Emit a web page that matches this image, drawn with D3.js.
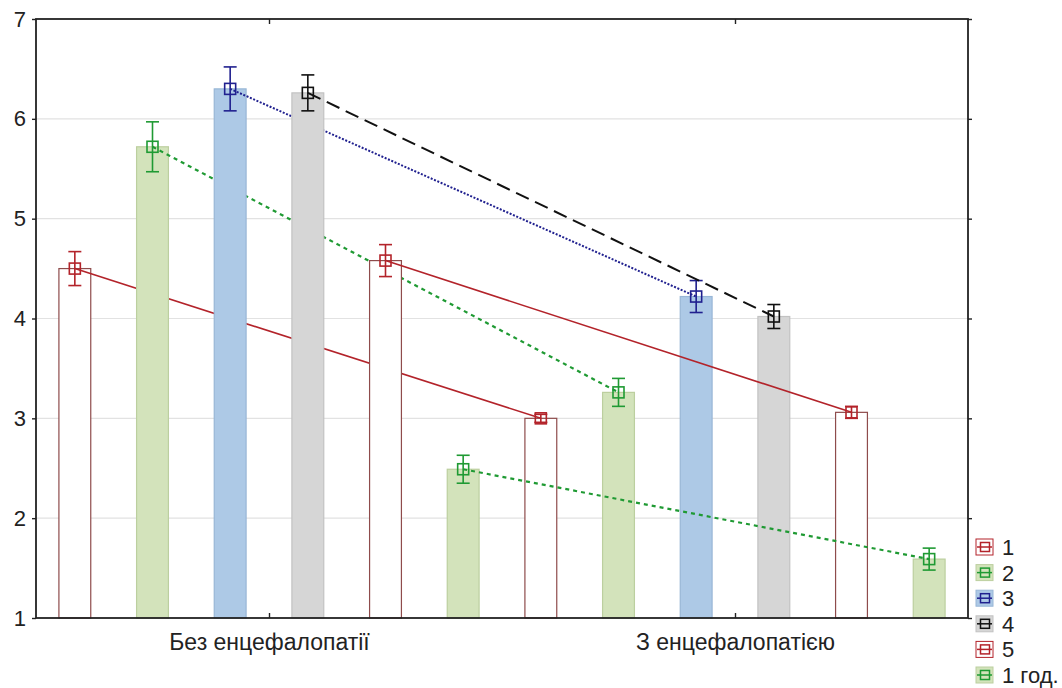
<!DOCTYPE html>
<html>
<head>
<meta charset="utf-8">
<script src="https://cdn.jsdelivr.net/npm/d3@7"></script>
<style>
  body { margin: 0; background: #fff; }
  svg { display: block; font-family: "Liberation Sans", Arial, sans-serif; }
</style>
</head>
<body>
<svg id="chart" width="1062" height="688"></svg>
<script>
// categories on the x axis
let categories = ["Без енцефалопатії", "З енцефалопатією"];
// series names (legend)
let seriesNames = ["1", "2", "3", "4", "5", "1 год."];
// means per series, one value per category
let meanS1 = [4.50, 3.00];
let meanS2 = [5.72, 3.26];
let meanS3 = [6.30, 4.22];
let meanS4 = [6.26, 4.02];
let meanS5 = [4.58, 3.06];
let meanS6 = [2.49, 1.59];
// half-width of the error bars
let errS1 = [0.17, 0.04];
let errS2 = [0.25, 0.14];
let errS3 = [0.22, 0.16];
let errS4 = [0.18, 0.12];
let errS5 = [0.16, 0.06];
let errS6 = [0.14, 0.11];
let yTicks = [1, 2, 3, 4, 5, 6, 7];

let means = [meanS1, meanS2, meanS3, meanS4, meanS5, meanS6];
let errs = [errS1, errS2, errS3, errS4, errS5, errS6];

// look of every series: bar fill/stroke, marker colour, line dash
let styles = [
  {fill: "#ffffff", barStroke: "#8e4b4b", color: "#b3232a", dash: null, width: 1.6},
  {fill: "#d3e3bb", barStroke: "#bccf9f", color: "#1f9a33", dash: "4,4", width: 2.2},
  {fill: "#adc9e6", barStroke: "#98b6d6", color: "#20208f", dash: "2,1.6", width: 2},
  {fill: "#d6d6d6", barStroke: "#c2c2c2", color: "#111111", dash: "14,7", width: 2},
  {fill: "#ffffff", barStroke: "#8e4b4b", color: "#b3232a", dash: null, width: 1.6},
  {fill: "#d3e3bb", barStroke: "#bccf9f", color: "#1f9a33", dash: "4,4", width: 2.2}
];

let svg = d3.select("#chart");
let margin = {left: 36, top: 19, right: 968, bottom: 618};

let x = d3.scalePoint()
  .domain(categories)
  .range([margin.left, margin.right])
  .padding(0.5);

let step = x.step();
// position of each series relative to category centre
let offset = d3.scaleBand()
  .domain(d3.range(seriesNames.length))
  .range([-step / 2, step / 2]);
let barW = offset.bandwidth() * 0.41;
let cx = (s, c) => x(categories[c]) + offset(s) + offset.bandwidth() / 2;

let y = d3.scaleLinear()
  .domain([1, 7])
  .range([margin.bottom, margin.top]);

// grid
svg.append("g").selectAll("line")
  .data(yTicks.slice(1, -1))
  .enter().append("line")
  .attr("x1", margin.left).attr("x2", margin.right)
  .attr("y1", d => y(d)).attr("y2", d => y(d))
  .attr("stroke", "#e2e2e2")
  .attr("stroke-width", 1.2);

let plot = svg.append("g").attr("id", "plot");

// series drawn one after another (bars, line, markers)
means.forEach(function(vals, s) {
  let st = styles[s];
  let g = plot.append("g").attr("class", "series" + s);

  g.selectAll("rect")
    .data(vals)
    .enter().append("rect")
    .attr("x", (d, c) => cx(s, c) - barW / 2)
    .attr("y", d => y(d))
    .attr("width", barW)
    .attr("height", d => y(1) - y(d))
    .attr("fill", st.fill)
    .attr("stroke", st.barStroke)
    .attr("stroke-width", 1.2);

  g.append("line")
    .attr("x1", cx(s, 0)).attr("y1", y(vals[0]))
    .attr("x2", cx(s, 1)).attr("y2", y(vals[1]))
    .attr("stroke", st.color)
    .attr("stroke-width", st.width)
    .attr("stroke-dasharray", st.dash);

  vals.forEach(function(v, c) {
    let e = errs[s][c];
    let px = cx(s, c);
    let eg = g.append("g")
      .attr("stroke", st.color)
      .attr("stroke-width", 1.6)
      .attr("fill", "none");
    eg.append("line")
      .attr("x1", px).attr("x2", px)
      .attr("y1", y(v + e)).attr("y2", y(v - e));
    eg.append("line")
      .attr("x1", px - 6.5).attr("x2", px + 6.5)
      .attr("y1", y(v + e)).attr("y2", y(v + e));
    eg.append("line")
      .attr("x1", px - 6.5).attr("x2", px + 6.5)
      .attr("y1", y(v - e)).attr("y2", y(v - e));
    eg.append("rect")
      .attr("x", px - 5.5).attr("y", y(v) - 5.5)
      .attr("width", 11).attr("height", 11);
  });
});

// frame
svg.append("rect")
  .attr("x", margin.left).attr("y", margin.top)
  .attr("width", margin.right - margin.left)
  .attr("height", margin.bottom - margin.top)
  .attr("fill", "none")
  .attr("stroke", "#222")
  .attr("stroke-width", 1.8);

// left axis
let yAxis = d3.axisLeft(y).tickValues(yTicks).tickSize(4).tickPadding(6).tickFormat(d3.format("d"));
let yGroup = svg.append("g").attr("transform", "translate(" + margin.left + ",0)").call(yAxis);
yGroup.select(".domain").remove();
yGroup.selectAll("line").attr("stroke", "#222").attr("stroke-width", 1.4);
yGroup.selectAll("text").attr("font-size", 22).attr("fill", "#222")
  .attr("font-family", "Liberation Sans, Arial, sans-serif");

// right axis: ticks only
let rAxis = d3.axisRight(y).tickValues(yTicks).tickSize(4).tickFormat("");
let rGroup = svg.append("g").attr("transform", "translate(" + margin.right + ",0)").call(rAxis);
rGroup.select(".domain").remove();
rGroup.selectAll("line").attr("stroke", "#222").attr("stroke-width", 1.4);

// bottom axis, ticks pointing inward
let xAxis = d3.axisBottom(x).tickSize(-5).tickPadding(16);
let xGroup = svg.append("g").attr("transform", "translate(0," + margin.bottom + ")").call(xAxis);
xGroup.select(".domain").remove();
xGroup.selectAll("line").attr("stroke", "#222").attr("stroke-width", 1.4);
xGroup.selectAll("text").attr("font-size", 23).attr("fill", "#222")
  .attr("font-family", "Liberation Sans, Arial, sans-serif");

// top ticks
let tAxis = d3.axisTop(x).tickSize(-5).tickFormat("");
let tGroup = svg.append("g").attr("transform", "translate(0," + margin.top + ")").call(tAxis);
tGroup.select(".domain").remove();
tGroup.selectAll("line").attr("stroke", "#222").attr("stroke-width", 1.4);

// legend
let legend = svg.append("g").attr("transform", "translate(976,547)");
seriesNames.forEach(function(name, s) {
  let st = styles[s];
  let lg = legend.append("g").attr("transform", "translate(0," + (s * 25.6) + ")");
  lg.append("rect")
    .attr("x", 0).attr("y", -8).attr("width", 17).attr("height", 16)
    .attr("fill", st.fill)
    .attr("stroke", st.barStroke === "#8e4b4b" ? "#b3232a" : st.barStroke)
    .attr("stroke-width", 1);
  lg.append("line")
    .attr("x1", 1).attr("x2", 16).attr("y1", 0).attr("y2", 0)
    .attr("stroke", st.color).attr("stroke-width", 1.5);
  lg.append("rect")
    .attr("x", 4.5).attr("y", -4.5).attr("width", 9).attr("height", 9)
    .attr("fill", "none").attr("stroke", st.color).attr("stroke-width", 1.5);
  lg.append("text")
    .attr("x", 26).attr("y", 0).attr("dy", "0.36em")
    .attr("font-size", 22).attr("fill", "#222")
    .text(name);
});
</script>
</body>
</html>
